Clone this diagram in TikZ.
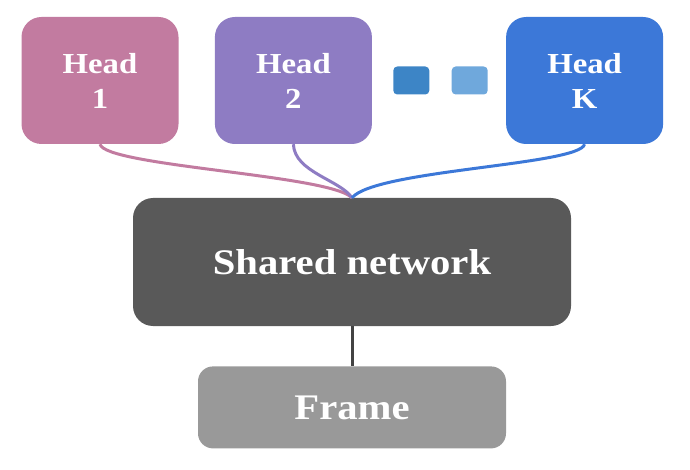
\documentclass[tikz,border=0pt]{standalone}
\usepackage{graphicx}
\usepackage{fontspec}
\setmainfont{Liberation Serif}
\usepackage{tikz}
\usetikzlibrary{positioning}
\definecolor{headone}{HTML}{C27BA0}
\definecolor{headtwo}{HTML}{8E7CC3}
\definecolor{headk}{HTML}{3C78D8}
\definecolor{dotdark}{HTML}{3D85C6}
\definecolor{dotlight}{HTML}{6FA8DC}
\definecolor{sharedgray}{HTML}{595959}
\definecolor{framegray}{HTML}{999999}
\definecolor{stemgray}{HTML}{434343}
\newcommand{\widetxt}[1]{\raisebox{-2pt}{\scalebox{1.13}[1]{#1}}}
\tikzset{
  headbox/.style={rounded corners=20pt,text=white,align=center,inner sep=0pt,
    minimum width=157pt,minimum height=127pt,
    font=\fontsize{29}{35}\selectfont\bfseries},
  dotbox/.style={rounded corners=4pt,inner sep=0pt,minimum width=36pt,minimum height=28pt},
  trunk/.style={rounded corners=20pt,text=white,inner sep=0pt,
    font=\fontsize{36}{40}\selectfont\bfseries},
  link/.style={line width=3pt}
}

\begin{document}
\begin{tikzpicture}[x=1pt,y=1pt,node distance=37pt and 37pt]
  \useasboundingbox (0,0) rectangle (690,469);
  \node[headbox,fill=headone] (head1) at (100,388.5) {\widetxt{Head}\\\widetxt{1}};
  \node[headbox,fill=headtwo,right=36pt of head1] (head2) {\widetxt{Head}\\\widetxt{2}};
  \node[dotbox,fill=dotdark,right=21pt of head2] (dot1) {};
  \node[dotbox,fill=dotlight,right=22pt of dot1] (dot2) {};
  \node[headbox,fill=headk,right=18pt of dot2] (headK) {\widetxt{Head}\\\widetxt{K}};
  \node[trunk,fill=sharedgray,minimum width=438pt,minimum height=128pt] (shared) at (352,207) {\raisebox{-2pt}{\widetxt{Shared network}}};
  \node[trunk,fill=framegray,rounded corners=15pt,minimum width=308pt,minimum height=82pt,below=40pt of shared] (frame) {\widetxt{Frame}};
  % heads join the shared network
  \draw[link,headone] (head1.south) .. controls +(5,-22) and +(-22,23) .. (shared.north);
  \draw[link,headtwo] (head2.south) .. controls +(1,-28) and +(-12,18) .. (shared.north);
  \draw[link,headk] (headK.south) .. controls +(-5,-21) and +(23,28) .. (shared.north);
  \draw[link,stemgray] (shared.south) -- (frame.north);
\end{tikzpicture}
\end{document}
